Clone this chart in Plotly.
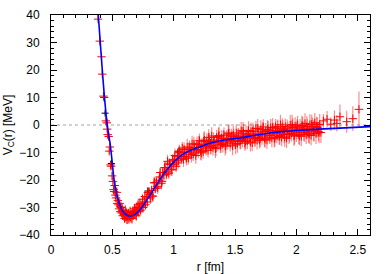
import plotly.graph_objects as go

# ---------------- data ----------------
# red data points: steep wall + minimum region
r_red_a = [0.384, 0.398, 0.412, 0.418, 0.428, 0.433, 0.447, 0.455, 0.458, 0.462,
           0.470, 0.475, 0.480, 0.485, 0.490, 0.498, 0.505, 0.510, 0.515, 0.520,
           0.525, 0.530, 0.536, 0.540, 0.545, 0.550, 0.555, 0.560, 0.565, 0.570,
           0.575, 0.580, 0.585, 0.590, 0.595, 0.600, 0.605, 0.610, 0.615, 0.620,
           0.625, 0.630, 0.635, 0.640, 0.645, 0.650, 0.655, 0.660, 0.665, 0.670,
           0.675, 0.680, 0.685, 0.690, 0.695, 0.700, 0.705, 0.710, 0.715, 0.720,
           0.725, 0.730, 0.740, 0.745, 0.750, 0.760, 0.765, 0.770, 0.780, 0.785,
           0.790]
v_red_a = [38.5, 30.5, 24.8, 18.5, 10.5, 10.0, 1.5, 0.8, -1.5, -3.5,
           -4.2, -9.5, -8.0, -14.5, -15.0, -18.5, -20.5, -23.5, -24.2, -22.0,
           -25.5, -26.5, -24.5, -28.5, -27.5, -29.0, -30.5, -28.5, -31.5, -30.0,
           -32.0, -31.0, -33.0, -31.5, -32.5, -34.0, -31.0, -33.5, -32.0, -34.5,
           -33.0, -32.0, -34.0, -33.0, -31.5, -33.5, -32.5, -34.0, -31.5, -33.0,
           -32.0, -30.5, -32.5, -31.0, -33.0, -30.0, -31.5, -29.0, -31.5, -30.0,
           -28.5, -31.0, -29.5, -27.0, -30.0, -28.0, -26.0, -29.0, -26.5, -28.0,
           -24.5]
e_red_a = [1.0, 0.8, 0.6, 0.8, 0.9, 1.2, 1.0, 1.5, 1.0, 1.2,
           1.5, 1.0, 1.5, 1.0, 1.2, 1.5, 1.2, 1.5, 1.2, 1.5,
           1.5, 1.5, 2.0, 1.5, 1.8, 1.5, 1.5, 2.0, 1.5, 2.0,
           1.5, 2.0, 1.5, 2.0, 1.5, 1.5, 2.0, 1.5, 2.0, 1.5,
           2.0, 1.5, 2.0, 1.5, 2.0, 2.0, 1.5, 2.0, 2.0, 1.5,
           2.0, 2.0, 1.5, 2.0, 2.0, 2.0, 1.5, 2.0, 2.0, 2.0,
           2.0, 1.5, 2.0, 2.0, 2.0, 2.0, 2.0, 2.0, 2.0, 2.0,
           2.0]

# red data points: attractive tail band
r_red_b = [0.80, 0.81, 0.82, 0.83, 0.84, 0.85, 0.86, 0.87, 0.88, 0.89,
           0.90, 0.91, 0.92, 0.93, 0.94, 0.95, 0.96, 0.97, 0.98, 0.99,
           1.00, 1.01, 1.02, 1.03, 1.04, 1.05, 1.06, 1.07, 1.08, 1.09,
           1.10, 1.11, 1.12, 1.13, 1.14, 1.15, 1.16, 1.17, 1.18, 1.19,
           1.20, 1.21, 1.22, 1.23, 1.24, 1.25, 1.26, 1.27, 1.28, 1.29,
           1.30, 1.31, 1.32, 1.33, 1.34, 1.35, 1.36, 1.37, 1.38, 1.39,
           1.40, 1.41, 1.42, 1.43, 1.44, 1.45, 1.46, 1.47, 1.48, 1.49,
           1.50, 1.51, 1.52, 1.53, 1.54, 1.55, 1.56, 1.57, 1.58, 1.59,
           1.60, 1.61, 1.62, 1.63, 1.64, 1.65, 1.66, 1.67, 1.68, 1.69,
           1.70, 1.71, 1.72, 1.73, 1.74, 1.75, 1.76, 1.77, 1.78, 1.79,
           1.80, 1.81, 1.82, 1.83, 1.84, 1.85, 1.86, 1.87, 1.88, 1.89,
           1.90, 1.91, 1.92, 1.93, 1.94, 1.95, 1.96, 1.97, 1.98, 1.99,
           2.00, 2.01, 2.02, 2.03, 2.04, 2.05, 2.06, 2.07, 2.08, 2.09,
           2.10, 2.11, 2.12, 2.13, 2.14, 2.15, 2.16, 2.17, 2.18, 2.19,
           2.20]
v_red_b = [-24.5, -26.5, -23.8, -25.9, -21.0, -23.1, -20.8, -22.9, -20.1, -17.3,
           -21.2, -17.3, -18.2, -15.5, -17.9, -13.2, -17.5, -14.4, -16.1, -12.8,
           -14.3, -11.1, -15.0, -11.4, -13.0, -9.9, -11.5, -8.4, -12.5, -9.9,
           -11.4, -8.0, -12.0, -8.4, -9.9, -6.9, -10.5, -8.2, -11.1, -7.0,
           -9.1, -5.7, -9.4, -7.5, -9.7, -5.5, -7.8, -5.9, -9.2, -6.0,
           -7.9, -4.0, -8.2, -6.2, -8.6, -4.5, -6.5, -3.8, -7.6, -4.9,
           -6.8, -3.7, -7.7, -4.9, -6.1, -2.9, -6.6, -4.0, -7.6, -4.3,
           -5.9, -2.9, -6.7, -4.3, -6.0, -2.1, -5.2, -3.0, -6.6, -3.3,
           -5.8, -2.0, -4.4, -2.4, -6.5, -3.3, -4.9, -1.3, -5.5, -3.3,
           -5.5, -1.7, -4.0, -0.7, -4.7, -2.3, -5.5, -1.9, -3.9, -1.0,
           -4.7, -2.2, -5.0, -0.6, -3.2, -1.2, -4.2, 0.1, -4.5, -1.7,
           -3.4, -0.6, -4.8, -2.0, -3.5, 0.0, -3.0, -0.9, -4.0, -0.4,
           -2.6, 0.0, -3.4, -1.0, -4.1, -0.4, -2.2, 0.5, -3.5, -1.4,
           -2.9, 0.1, -3.8, -0.7, -2.2, 0.8, -3.1, -0.9, -2.4, 0.2,
           -2.7]
e_red_b = [2.0, 2.2, 1.8, 2.0, 2.2, 1.8, 2.0, 2.2, 2.0, 1.8,
           2.2, 2.0, 2.4, 2.2, 2.0, 2.4, 2.2, 2.0, 2.4, 2.2,
           2.4, 2.6, 2.2, 2.4, 2.8, 2.4, 2.6, 2.2, 2.8, 2.4,
           2.6, 3.0, 2.4, 2.8, 2.6, 3.0, 2.6, 2.4, 3.0, 2.8,
           3.0, 2.6, 3.2, 2.8, 2.6, 3.2, 2.8, 3.0, 2.6, 3.2,
           2.8, 3.2, 3.0, 2.6, 3.4, 2.8, 3.0, 3.2, 2.6, 3.0,
           3.2, 2.8, 3.4, 3.0, 2.8, 3.2, 3.0, 2.6, 3.4, 3.0,
           2.8, 3.2, 3.4, 3.0, 2.8, 3.2, 3.0, 3.4, 2.8, 3.2,
           3.0, 3.4, 2.8, 3.2, 3.0, 3.4, 3.0, 2.8, 3.4, 3.2,
           3.0, 3.4, 3.2, 2.8, 3.4, 3.0, 3.2, 3.4, 2.8, 3.2,
           3.4, 3.0, 3.2, 2.8, 3.4, 3.2, 3.0, 3.6, 3.2, 3.4,
           3.2, 3.0, 3.6, 3.2, 3.4, 3.6, 3.0, 3.4, 3.6, 3.2,
           3.6, 3.4, 3.6, 3.2, 3.6, 3.4, 3.6, 3.8, 3.4, 3.6,
           3.6, 3.8, 3.6, 3.4, 3.8, 3.6, 3.8, 3.6, 3.4, 3.8,
           3.8]

# second (interleaved) set of band points
r_red_d = [0.805, 0.825, 0.845, 0.865, 0.885, 0.905, 0.925, 0.945, 0.965, 0.985,
           1.005, 1.025, 1.045, 1.065, 1.085, 1.105, 1.125, 1.145, 1.165, 1.185,
           1.205, 1.225, 1.245, 1.265, 1.285, 1.305, 1.325, 1.345, 1.365, 1.385,
           1.405, 1.425, 1.445, 1.465, 1.485, 1.505, 1.525, 1.545, 1.565, 1.585,
           1.605, 1.625, 1.645, 1.665, 1.685, 1.705, 1.725, 1.745, 1.765, 1.785,
           1.805, 1.825, 1.845, 1.865, 1.885, 1.905, 1.925, 1.945, 1.965, 1.985,
           2.005, 2.025, 2.045, 2.065, 2.085, 2.105, 2.125, 2.145, 2.165, 2.185]
v_red_d = [-25.2, -25.8, -21.0, -22.4, -18.9, -20.5, -15.5, -17.0, -13.9, -16.3,
           -12.5, -13.8, -9.5, -12.1, -8.9, -12.0, -8.9, -10.7, -6.9, -8.9,
           -7.0, -10.1, -5.9, -8.4, -4.5, -7.4, -5.5, -8.3, -4.2, -7.1,
           -5.0, -7.3, -3.2, -5.6, -3.6, -7.2, -4.0, -5.6, -2.3, -5.9,
           -3.7, -6.2, -2.2, -4.6, -1.2, -4.9, -2.5, -5.2, -1.6, -3.7,
           -0.9, -4.6, -2.0, -3.8, -0.7, -4.4, -1.4, -3.2, 0.1, -3.7,
           -1.5, -3.9, -0.2, -2.7, -0.6, -3.3, 0.3, -2.1, -0.6, -2.8]
e_red_d = [2.0, 2.2, 2.0, 1.8, 2.2, 2.0, 2.2, 2.0, 1.8, 2.2,
           2.4, 2.6, 2.4, 2.2, 2.6, 2.8, 2.6, 3.0, 2.6, 2.8,
           3.0, 2.8, 3.2, 2.8, 3.0, 3.2, 2.8, 3.0, 3.2, 3.0,
           3.2, 3.0, 3.4, 3.0, 3.2, 3.4, 3.0, 3.2, 3.4, 3.0,
           3.2, 3.4, 3.0, 3.2, 3.4, 3.2, 3.4, 3.0, 3.4, 3.2,
           3.4, 3.2, 3.6, 3.4, 3.2, 3.6, 3.4, 3.2, 3.6, 3.4,
           3.6, 3.4, 3.6, 3.4, 3.8, 3.6, 3.4, 3.8, 3.6, 3.8]

# sparse long-range points with large errors
r_red_c = [2.22, 2.25, 2.28, 2.31, 2.33, 2.355, 2.41, 2.46, 2.51]
v_red_c = [1.5, 2.1, 0.3, 1.8, 0.6, 3.0, 1.2, 2.3, 5.7]
e_red_c = [2.5, 3.0, 2.5, 3.5, 3.0, 4.5, 4.0, 4.5, 6.5]

# black data points
r_blk = [0.441, 0.492, 0.560, 0.700, 0.790, 1.035, 1.300, 1.570, 1.900]
v_blk = [4.3, -14.0, -29.5, -31.5, -24.0, -9.8, -6.5, -4.7, -2.0]
e_blk = [0.6, 0.8, 1.0, 1.0, 1.2, 1.2, 1.2, 1.4, 1.6]

# fit curve (blue line)
r_fit = [0.36, 0.385, 0.40, 0.418, 0.435, 0.454, 0.47, 0.481, 0.494, 0.513,
         0.53, 0.549, 0.575, 0.603, 0.63, 0.657, 0.69, 0.725, 0.76, 0.80,
         0.85, 0.90, 0.95, 1.00, 1.05, 1.10, 1.15, 1.20, 1.27, 1.35,
         1.45, 1.54, 1.65, 1.785, 1.866, 2.00, 2.27, 2.60]
v_fit = [52.0, 40.0, 31.0, 20.0, 10.5, 1.8, -3.5, -6.5, -11.5, -19.5,
         -24.0, -27.4, -30.6, -32.3, -33.0, -33.0, -32.3, -30.8, -28.7, -26.0,
         -22.5, -19.0, -16.0, -13.5, -11.5, -10.0, -9.0, -8.2, -7.0, -6.0,
         -5.2, -4.7, -3.8, -2.9, -2.5, -2.0, -1.3, -0.6]

x_ticks = [0, 0.5, 1, 1.5, 2, 2.5]
x_tick_text = ["0", "0.5", "1", "1.5", "2", "2.5"]
y_ticks = [-40, -30, -20, -10, 0, 10, 20, 30, 40]

# ---------------- figure ----------------
FONT = "Liberation Sans, Arial, sans-serif"
err_col = "rgba(255,0,0,0.45)"

fig = go.Figure()

# zero reference line
fig.add_trace(go.Scatter(x=[0, 2.6], y=[0, 0], mode="lines",
                         line=dict(color="#a0a0a0", width=1, dash="dot"),
                         hoverinfo="skip", showlegend=False))

fig.add_trace(go.Scatter(
    x=r_blk, y=v_blk, mode="markers",
    marker=dict(symbol="cross-thin", size=5, line=dict(color="black", width=1)),
    error_y=dict(type="data", array=e_blk, color="rgba(0,0,0,0.5)", thickness=1, width=0),
    showlegend=False))

for rr, vv, ee in [(r_red_a, v_red_a, e_red_a), (r_red_b, v_red_b, e_red_b),
                   (r_red_d, v_red_d, e_red_d), (r_red_c, v_red_c, e_red_c)]:
    fig.add_trace(go.Scatter(
        x=rr, y=vv, mode="markers",
        marker=dict(symbol="cross-thin", size=6, line=dict(color="red", width=1)),
        error_y=dict(type="data", array=ee, color=err_col, thickness=1.2, width=0),
        showlegend=False))

fig.add_trace(go.Scatter(x=r_fit, y=v_fit, mode="lines",
                         line=dict(color="blue", width=1.6, shape="spline", smoothing=0.8),
                         showlegend=False))

axis_common = dict(showline=True, linecolor="black", linewidth=1, mirror="allticks",
                   ticks="inside", ticklen=6, tickcolor="black", tickwidth=1,
                   showgrid=False, zeroline=False,
                   tickfont=dict(family=FONT, size=12, color="black"))

fig.update_xaxes(range=[0, 2.6], tickvals=x_ticks, ticktext=x_tick_text,
                 minor=dict(ticks="inside", ticklen=3, dtick=0.1, tickcolor="black"),
                 title=dict(text="r [fm]", font=dict(family=FONT, size=12), standoff=6),
                 ticklabelstandoff=4, **axis_common)
fig.update_yaxes(range=[-40, 40], tickvals=y_ticks,
                 minor=dict(ticks="inside", ticklen=3, dtick=2, tickcolor="black"),
                 title=dict(text="V<sub>C</sub>(r) [MeV]", font=dict(family=FONT, size=12), standoff=4),
                 ticklabelstandoff=8, **axis_common)

fig.update_layout(width=392, height=274, plot_bgcolor="white", paper_bgcolor="white",
                  margin=dict(l=51, r=22, t=15, b=39, autoexpand=False),
                  font=dict(family=FONT, size=12, color="black"))

fig.write_html("out.html", config={"displayModeBar": False},
               post_script="document.body.style.margin='0px';")
